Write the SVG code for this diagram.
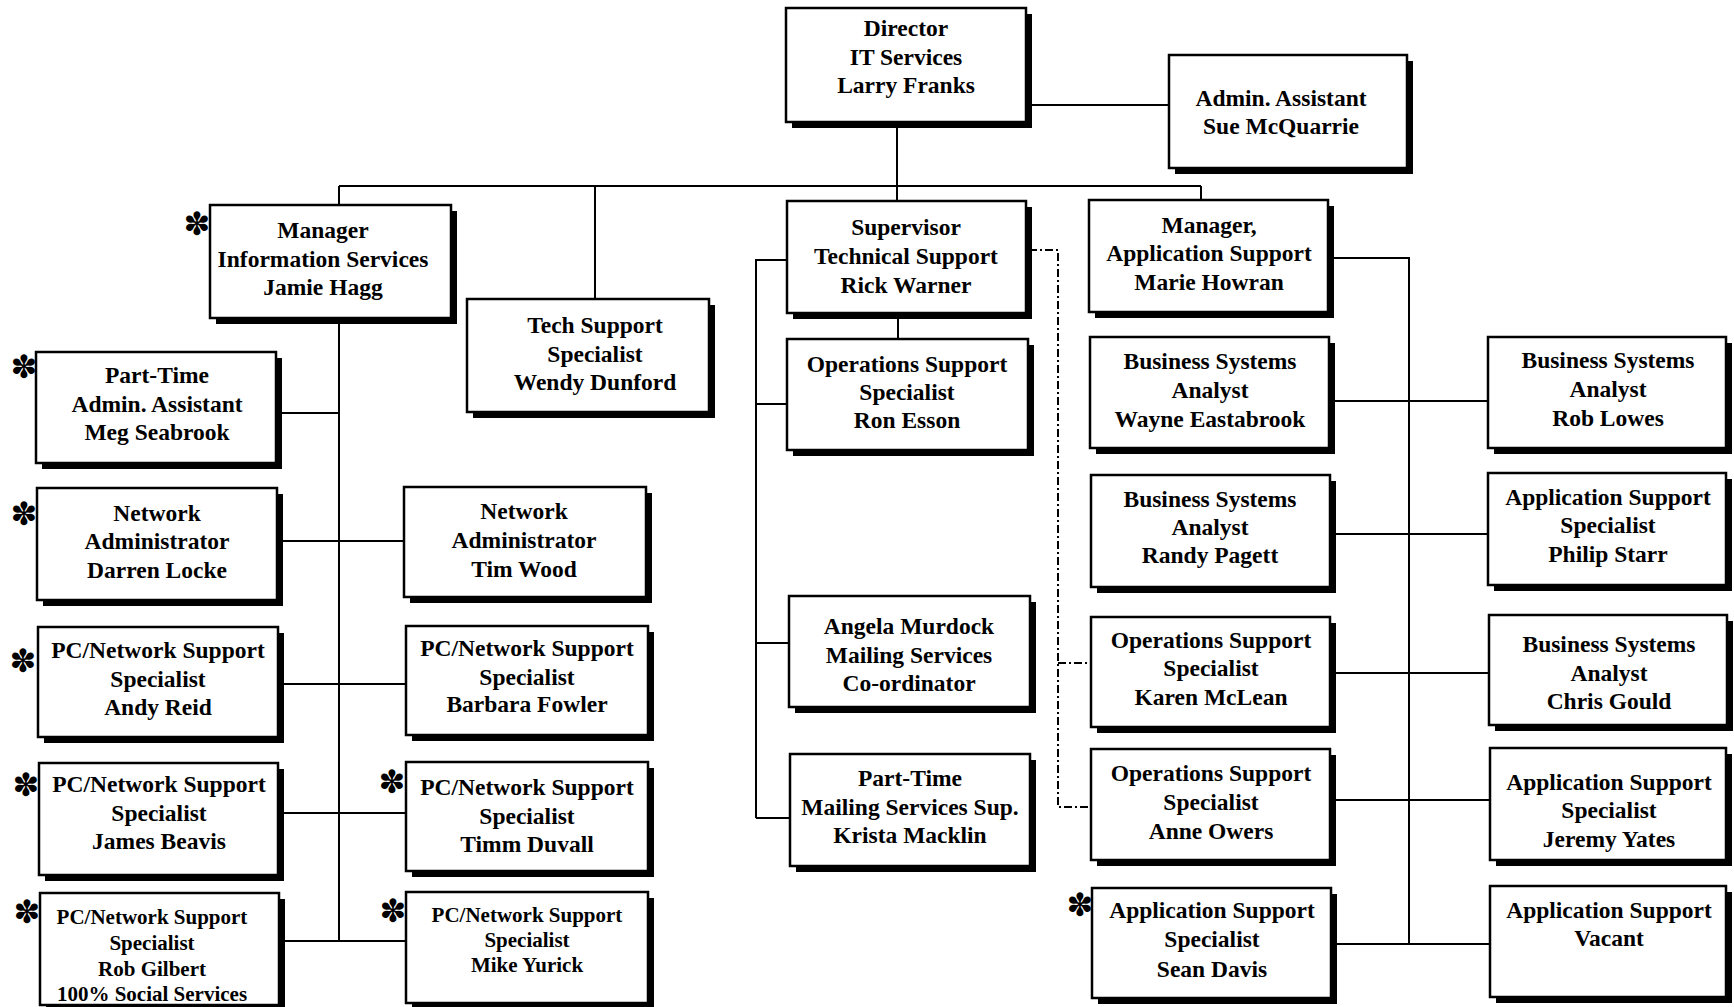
<svg xmlns="http://www.w3.org/2000/svg" width="1734" height="1007" viewBox="0 0 1734 1007">
<style>
.sh{fill:#000}
.bx{fill:#fff;stroke:#000;stroke-width:2.5}
.t{font-family:"Liberation Serif","Times New Roman",serif;font-weight:bold;font-size:23.5px;fill:#000;text-anchor:middle}
.ts{font-size:21px}
.ln{fill:none;stroke:#000;stroke-width:2}
.dd{fill:none;stroke:#000;stroke-width:2;stroke-dasharray:8 3 2 3}
.ast{font-family:"DejaVu Sans",sans-serif;font-size:32px;font-weight:bold;fill:#000;text-anchor:middle;dominant-baseline:central}
</style>
<rect width="1734" height="1007" fill="#fff"/>
<g id="connectors">
<path class="ln" d="M897,122V201M339,186H1201M339,186V941M595,186V299M1201,186V200M1026,105H1169"/>
<path class="ln" d="M276,413H339M277,541H404M278,684H406M278,813H406M279,941H406"/>
<path class="ln" d="M787,260H756V818M756,404H787M756,643H789M756,818H790M898,313V339"/>
<path class="dd" d="M1029,250H1058V807H1091M1058,663H1091"/>
<path class="ln" d="M1328,258H1409V944M1329,401H1488M1330,534H1488M1330,673H1489M1330,800H1490M1331,944H1490"/>
</g>
<g id="director"><rect class="sh" x="792" y="14" width="240" height="114"/><rect class="bx" x="786" y="8" width="240" height="114"/>
<text class="t"><tspan x="906" y="36">Director</tspan><tspan x="906" y="65">IT Services</tspan><tspan x="906" y="93">Larry Franks</tspan></text></g>
<g id="admin"><rect class="sh" x="1175" y="61" width="238" height="113"/><rect class="bx" x="1169" y="55" width="238" height="113"/>
<text class="t"><tspan x="1281" y="106">Admin. Assistant</tspan><tspan x="1281" y="134">Sue McQuarrie</tspan></text></g>
<g id="mgr-info"><rect class="sh" x="216" y="211" width="241" height="113"/><rect class="bx" x="210" y="205" width="241" height="113"/>
<text class="t"><tspan x="323" y="238">Manager</tspan><tspan x="323" y="267">Information Services</tspan><tspan x="323" y="295">Jamie Hagg</tspan></text>
<text class="ast" x="197" y="224">✽</text></g>
<g id="tech-wendy"><rect class="sh" x="473" y="305" width="242" height="113"/><rect class="bx" x="467" y="299" width="242" height="113"/>
<text class="t"><tspan x="595" y="333">Tech Support</tspan><tspan x="595" y="362">Specialist</tspan><tspan x="595" y="390">Wendy Dunford</tspan></text></g>
<g id="supervisor"><rect class="sh" x="793" y="207" width="239" height="112"/><rect class="bx" x="787" y="201" width="239" height="112"/>
<text class="t"><tspan x="906" y="235">Supervisor</tspan><tspan x="906" y="264">Technical Support</tspan><tspan x="906" y="293">Rick Warner</tspan></text></g>
<g id="mgr-app"><rect class="sh" x="1095" y="206" width="239" height="112"/><rect class="bx" x="1089" y="200" width="239" height="112"/>
<text class="t"><tspan x="1209" y="233">Manager,</tspan><tspan x="1209" y="261">Application Support</tspan><tspan x="1209" y="290">Marie Howran</tspan></text></g>
<g id="meg"><rect class="sh" x="42" y="358" width="240" height="111"/><rect class="bx" x="36" y="352" width="240" height="111"/>
<text class="t"><tspan x="157" y="383">Part-Time</tspan><tspan x="157" y="412">Admin. Assistant</tspan><tspan x="157" y="440">Meg Seabrook</tspan></text>
<text class="ast" x="24" y="367">✽</text></g>
<g id="darren"><rect class="sh" x="43" y="494" width="240" height="112"/><rect class="bx" x="37" y="488" width="240" height="112"/>
<text class="t"><tspan x="157" y="521">Network</tspan><tspan x="157" y="549">Administrator</tspan><tspan x="157" y="578">Darren Locke</tspan></text>
<text class="ast" x="24" y="514">✽</text></g>
<g id="tim"><rect class="sh" x="410" y="493" width="242" height="110"/><rect class="bx" x="404" y="487" width="242" height="110"/>
<text class="t"><tspan x="524" y="519">Network</tspan><tspan x="524" y="548">Administrator</tspan><tspan x="524" y="577">Tim Wood</tspan></text></g>
<g id="andy"><rect class="sh" x="44" y="633" width="240" height="110"/><rect class="bx" x="38" y="627" width="240" height="110"/>
<text class="t"><tspan x="158" y="658">PC/Network Support</tspan><tspan x="158" y="687">Specialist</tspan><tspan x="158" y="715">Andy Reid</tspan></text>
<text class="ast" x="23" y="661">✽</text></g>
<g id="barbara"><rect class="sh" x="412" y="632" width="242" height="109"/><rect class="bx" x="406" y="626" width="242" height="109"/>
<text class="t"><tspan x="527" y="656">PC/Network Support</tspan><tspan x="527" y="685">Specialist</tspan><tspan x="527" y="712">Barbara Fowler</tspan></text></g>
<g id="james"><rect class="sh" x="45" y="769" width="239" height="112"/><rect class="bx" x="39" y="763" width="239" height="112"/>
<text class="t"><tspan x="159" y="792">PC/Network Support</tspan><tspan x="159" y="821">Specialist</tspan><tspan x="159" y="849">James Beavis</tspan></text>
<text class="ast" x="26" y="785">✽</text></g>
<g id="timm"><rect class="sh" x="412" y="768" width="242" height="109"/><rect class="bx" x="406" y="762" width="242" height="109"/>
<text class="t"><tspan x="527" y="795">PC/Network Support</tspan><tspan x="527" y="824">Specialist</tspan><tspan x="527" y="852">Timm Duvall</tspan></text>
<text class="ast" x="392" y="782">✽</text></g>
<g id="rob-gilbert"><rect class="sh" x="46" y="899" width="239" height="112"/><rect class="bx" x="40" y="893" width="239" height="112"/>
<text class="t ts"><tspan x="152" y="924">PC/Network Support</tspan><tspan x="152" y="950">Specialist</tspan><tspan x="152" y="976">Rob Gilbert</tspan><tspan x="152" y="1001">100% Social Services</tspan></text>
<text class="ast" x="27" y="912">✽</text></g>
<g id="mike"><rect class="sh" x="412" y="898" width="242" height="111"/><rect class="bx" x="406" y="892" width="242" height="111"/>
<text class="t ts"><tspan x="527" y="922">PC/Network Support</tspan><tspan x="527" y="947">Specialist</tspan><tspan x="527" y="972">Mike Yurick</tspan></text>
<text class="ast" x="393" y="911">✽</text></g>
<g id="ron"><rect class="sh" x="793" y="345" width="241" height="111"/><rect class="bx" x="787" y="339" width="241" height="111"/>
<text class="t"><tspan x="907" y="372">Operations Support</tspan><tspan x="907" y="400">Specialist</tspan><tspan x="907" y="428">Ron Esson</tspan></text></g>
<g id="angela"><rect class="sh" x="795" y="602" width="241" height="111"/><rect class="bx" x="789" y="596" width="241" height="111"/>
<text class="t"><tspan x="909" y="634">Angela Murdock</tspan><tspan x="909" y="663">Mailing Services</tspan><tspan x="909" y="691">Co-ordinator</tspan></text></g>
<g id="krista"><rect class="sh" x="796" y="760" width="240" height="112"/><rect class="bx" x="790" y="754" width="240" height="112"/>
<text class="t"><tspan x="910" y="786">Part-Time</tspan><tspan x="910" y="815">Mailing Services Sup.</tspan><tspan x="910" y="843">Krista Macklin</tspan></text></g>
<g id="wayne"><rect class="sh" x="1096" y="343" width="239" height="111"/><rect class="bx" x="1090" y="337" width="239" height="111"/>
<text class="t"><tspan x="1210" y="369">Business Systems</tspan><tspan x="1210" y="398">Analyst</tspan><tspan x="1210" y="427">Wayne Eastabrook</tspan></text></g>
<g id="randy"><rect class="sh" x="1097" y="481" width="239" height="112"/><rect class="bx" x="1091" y="475" width="239" height="112"/>
<text class="t"><tspan x="1210" y="507">Business Systems</tspan><tspan x="1210" y="535">Analyst</tspan><tspan x="1210" y="563">Randy Pagett</tspan></text></g>
<g id="karen"><rect class="sh" x="1097" y="623" width="239" height="110"/><rect class="bx" x="1091" y="617" width="239" height="110"/>
<text class="t"><tspan x="1211" y="648">Operations Support</tspan><tspan x="1211" y="676">Specialist</tspan><tspan x="1211" y="705">Karen McLean</tspan></text></g>
<g id="anne"><rect class="sh" x="1097" y="755" width="239" height="111"/><rect class="bx" x="1091" y="749" width="239" height="111"/>
<text class="t"><tspan x="1211" y="781">Operations Support</tspan><tspan x="1211" y="810">Specialist</tspan><tspan x="1211" y="839">Anne Owers</tspan></text></g>
<g id="sean"><rect class="sh" x="1098" y="894" width="239" height="110"/><rect class="bx" x="1092" y="888" width="239" height="110"/>
<text class="t"><tspan x="1212" y="918">Application Support</tspan><tspan x="1212" y="947">Specialist</tspan><tspan x="1212" y="977">Sean Davis</tspan></text>
<text class="ast" x="1080" y="905">✽</text></g>
<g id="rob-lowes"><rect class="sh" x="1494" y="343" width="238" height="111"/><rect class="bx" x="1488" y="337" width="238" height="111"/>
<text class="t"><tspan x="1608" y="368">Business Systems</tspan><tspan x="1608" y="397">Analyst</tspan><tspan x="1608" y="426">Rob Lowes</tspan></text></g>
<g id="philip"><rect class="sh" x="1494" y="479" width="238" height="112"/><rect class="bx" x="1488" y="473" width="238" height="112"/>
<text class="t"><tspan x="1608" y="505">Application Support</tspan><tspan x="1608" y="533">Specialist</tspan><tspan x="1608" y="562">Philip Starr</tspan></text></g>
<g id="chris"><rect class="sh" x="1495" y="621" width="238" height="110"/><rect class="bx" x="1489" y="615" width="238" height="110"/>
<text class="t"><tspan x="1609" y="652">Business Systems</tspan><tspan x="1609" y="681">Analyst</tspan><tspan x="1609" y="709">Chris Gould</tspan></text></g>
<g id="jeremy"><rect class="sh" x="1496" y="754" width="236" height="112"/><rect class="bx" x="1490" y="748" width="236" height="112"/>
<text class="t"><tspan x="1609" y="790">Application Support</tspan><tspan x="1609" y="818">Specialist</tspan><tspan x="1609" y="847">Jeremy Yates</tspan></text></g>
<g id="vacant"><rect class="sh" x="1496" y="892" width="236" height="111"/><rect class="bx" x="1490" y="886" width="236" height="111"/>
<text class="t"><tspan x="1609" y="918">Application Support</tspan><tspan x="1609" y="946">Vacant</tspan></text></g>
</svg>
